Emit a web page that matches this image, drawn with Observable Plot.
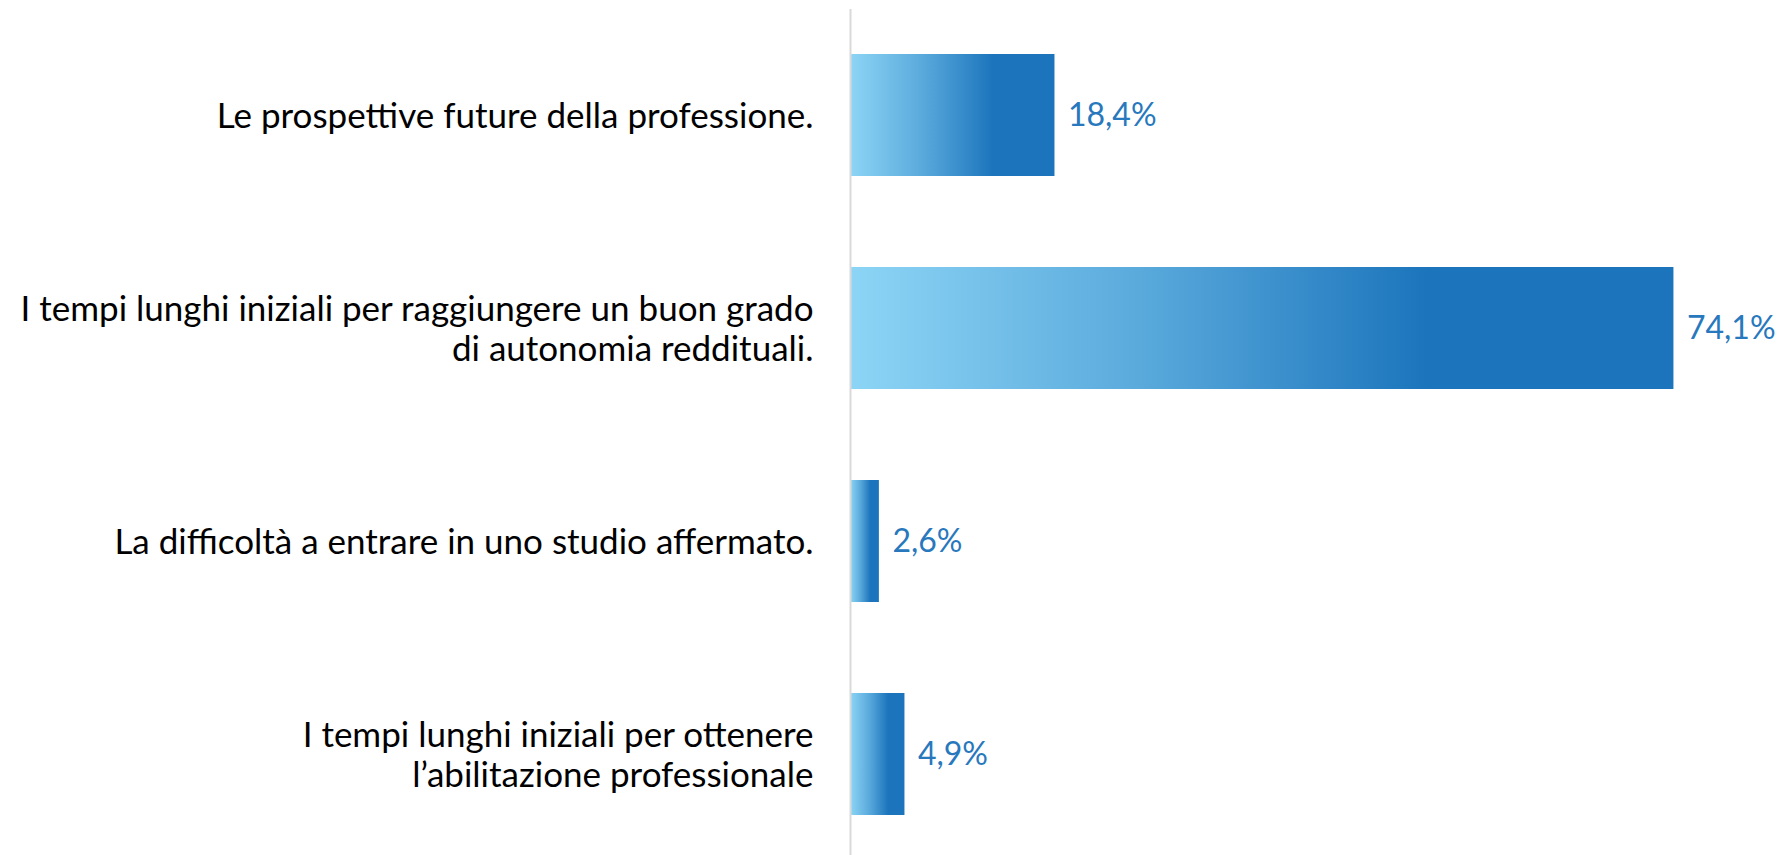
<!DOCTYPE html>
<html>
<head>
<meta charset="utf-8">
<script src="https://cdn.jsdelivr.net/npm/d3@7"></script>
<script src="https://cdn.jsdelivr.net/npm/@observablehq/plot@0.6"></script>
<style>
  html, body { margin: 0; padding: 0; background: #fff; overflow: hidden; }
  #chart svg { display: block; }
</style>
</head>
<body>
<div id="chart"></div>
<script>
const categories = [
  "Le prospettive future della professione.",
  "I tempi lunghi iniziali per raggiungere un buon grado\ndi autonomia reddituali.",
  "La difficoltà a entrare in uno studio affermato.",
  "I tempi lunghi iniziali per ottenere\nl\u2019abilitazione professionale"
];
const values = [18.4, 74.1, 2.6, 4.9];

const data = categories.map((c, i) => ({category: c, value: values[i]}));
const fmt = v => v.toFixed(1).replace(".", ",") + "%";

const FONT = "Lato, 'Open Sans', sans-serif";

const plot = Plot.plot({
  width: 1780,
  height: 855,
  marginLeft: 850,
  marginRight: 41,
  marginTop: 13,
  marginBottom: 0,
  style: {fontFamily: FONT, background: "#fff"},
  x: {domain: [0, 80], axis: null},
  y: {domain: categories, paddingInner: 0.428, paddingOuter: 0.19, label: null},
  marks: [
    Plot.axisY({
      tickSize: 0,
      tickPadding: 37,
      fontSize: 35,
      lineHeight: 1.14,
      fill: "#000",
      label: null,
      lineWidth: Infinity
    }),
    Plot.barX(data, {x: "value", y: "category", fill: "url(#barGrad)"}),
    Plot.ruleX([0], {stroke: "#d9d9d9", strokeWidth: 2, insetTop: -4}),
    Plot.text(data, {
      x: "value", y: "category", text: d => fmt(d.value),
      textAnchor: "start", dx: 13, fill: "#2778bd", fontSize: 32
    })
  ]
});

const defs = d3.select(plot).insert("defs", ":first-child");
const g = defs.append("linearGradient")
  .attr("id", "barGrad").attr("x1", "0").attr("y1", "0").attr("x2", "1").attr("y2", "0");
g.append("stop").attr("offset", "0").attr("stop-color", "#8dd5f6");
g.append("stop").attr("offset", "0.35").attr("stop-color", "#5aaadc");
g.append("stop").attr("offset", "0.7").attr("stop-color", "#1c75bc");
g.append("stop").attr("offset", "1").attr("stop-color", "#1c75bc");

document.getElementById("chart").appendChild(plot);
</script>
</body>
</html>
